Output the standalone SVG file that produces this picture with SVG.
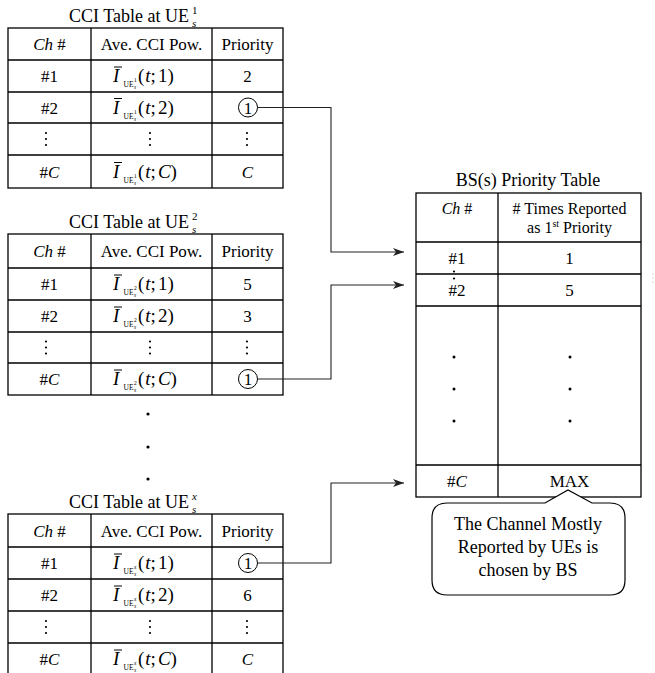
<svg xmlns="http://www.w3.org/2000/svg" width="655" height="673" viewBox="0 0 655 673">
<style>
.t{font-family:"Liberation Serif","Times New Roman",serif;fill:#000}
.m{text-anchor:middle}
.i{font-style:italic}
.f17{font-size:17px}
.f18{font-size:18px}
.grid{stroke:#000;stroke-width:1.3;fill:none}
.bar{stroke:#000;stroke-width:1}
.conn{stroke:#222;stroke-width:1.1;fill:none}
.dot{fill:#000}
</style>
<defs>
<marker id="ah" markerUnits="userSpaceOnUse" markerWidth="12" markerHeight="10" refX="11" refY="4" orient="auto">
<path d="M0,0 L11,4 L0,8 L3,4 Z" fill="#222"/>
</marker>
</defs>
<rect width="655" height="673" fill="#fff"/>

<!-- Table UE1 -->
<g id="table-ue1">
<text class="t f18" x="69" y="22">CCI Table at UE</text>
<text class="t" x="192" y="13.5" font-size="11">1</text>
<text class="t i" x="192" y="27" font-size="11">s</text>
<rect class="grid" x="8" y="28" width="275" height="160"/>
<path class="grid" d="M8 60H283M8 92H283M8 123H283M8 155H283M91 28V188M212 28V188"/>
<text class="t f17 m" x="49.5" y="50"><tspan class="i">Ch</tspan> #</text>
<text class="t f17 m" x="151.5" y="50">Ave. CCI Pow.</text>
<text class="t f17 m" x="247.5" y="50">Priority</text>
<text class="t f17 m" x="49.5" y="82">#1</text>
<text class="t f17 m" x="49.5" y="113.5">#2</text>
<text class="t f17 m" x="49.5" y="177.5">#<tspan class="i">C</tspan></text>
<text class="t f17 m" x="247.5" y="82">2</text>
<circle cx="248" cy="107.5" r="9.5" fill="none" stroke="#000" stroke-width="1"/>
<text class="t f17 m" x="248" y="113.5">1</text>
<text class="t f17 m i" x="247.5" y="177.5">C</text>
<g class="dot"><circle cx="46" cy="133" r="1.1"/><circle cx="46" cy="139" r="1.1"/><circle cx="46" cy="145" r="1.1"/><circle cx="150" cy="133" r="1.1"/><circle cx="150" cy="139" r="1.1"/><circle cx="150" cy="145" r="1.1"/><circle cx="247" cy="133" r="1.1"/><circle cx="247" cy="139" r="1.1"/><circle cx="247" cy="145" r="1.1"/></g>
<g transform="translate(0,82)"><text class="t i" x="113" y="0" font-size="19">I</text><line class="bar" x1="114" y1="-15" x2="122" y2="-15"/><text class="t" x="123.5" y="5" font-size="7.5">UE</text><text class="t" x="134" y="0" font-size="5.5">1</text><text class="t i" x="134" y="7" font-size="5.5">s</text><text class="t" x="138" y="0" font-size="19">(<tspan class="i" dx="1">t</tspan>;<tspan dx="2">1</tspan>)</text></g>
<g transform="translate(0,113.5)"><text class="t i" x="113" y="0" font-size="19">I</text><line class="bar" x1="114" y1="-15" x2="122" y2="-15"/><text class="t" x="123.5" y="5" font-size="7.5">UE</text><text class="t" x="134" y="0" font-size="5.5">1</text><text class="t i" x="134" y="7" font-size="5.5">s</text><text class="t" x="138" y="0" font-size="19">(<tspan class="i" dx="1">t</tspan>;<tspan dx="2">2</tspan>)</text></g>
<g transform="translate(0,177.5)"><text class="t i" x="113" y="0" font-size="19">I</text><line class="bar" x1="114" y1="-15" x2="122" y2="-15"/><text class="t" x="123.5" y="5" font-size="7.5">UE</text><text class="t" x="134" y="0" font-size="5.5">1</text><text class="t i" x="134" y="7" font-size="5.5">s</text><text class="t" x="138" y="0" font-size="19">(<tspan class="i" dx="1">t</tspan>;<tspan class="i" dx="2">C</tspan>)</text></g>
</g>

<!-- Table UE2 -->
<g id="table-ue2">
<text class="t f18" x="69" y="228">CCI Table at UE</text>
<text class="t" x="192" y="219.5" font-size="11">2</text>
<text class="t i" x="192" y="233" font-size="11">s</text>
<rect class="grid" x="8" y="234" width="275" height="161"/>
<path class="grid" d="M8 268H283M8 300H283M8 332H283M8 363H283M91 234V395M212 234V395"/>
<text class="t f17 m" x="49.5" y="257"><tspan class="i">Ch</tspan> #</text>
<text class="t f17 m" x="151.5" y="257">Ave. CCI Pow.</text>
<text class="t f17 m" x="247.5" y="257">Priority</text>
<text class="t f17 m" x="49.5" y="290">#1</text>
<text class="t f17 m" x="49.5" y="322">#2</text>
<text class="t f17 m" x="49.5" y="385">#<tspan class="i">C</tspan></text>
<text class="t f17 m" x="247.5" y="290">5</text>
<text class="t f17 m" x="247.5" y="322">3</text>
<circle cx="248" cy="379" r="9.5" fill="none" stroke="#000" stroke-width="1"/>
<text class="t f17 m" x="248" y="385">1</text>
<g class="dot"><circle cx="46" cy="341.5" r="1.1"/><circle cx="46" cy="347.5" r="1.1"/><circle cx="46" cy="353.5" r="1.1"/><circle cx="150" cy="341.5" r="1.1"/><circle cx="150" cy="347.5" r="1.1"/><circle cx="150" cy="353.5" r="1.1"/><circle cx="247" cy="341.5" r="1.1"/><circle cx="247" cy="347.5" r="1.1"/><circle cx="247" cy="353.5" r="1.1"/></g>
<g transform="translate(0,290)"><text class="t i" x="113" y="0" font-size="19">I</text><line class="bar" x1="114" y1="-15" x2="122" y2="-15"/><text class="t" x="123.5" y="5" font-size="7.5">UE</text><text class="t" x="134" y="0" font-size="5.5">2</text><text class="t i" x="134" y="7" font-size="5.5">s</text><text class="t" x="138" y="0" font-size="19">(<tspan class="i" dx="1">t</tspan>;<tspan dx="2">1</tspan>)</text></g>
<g transform="translate(0,322)"><text class="t i" x="113" y="0" font-size="19">I</text><line class="bar" x1="114" y1="-15" x2="122" y2="-15"/><text class="t" x="123.5" y="5" font-size="7.5">UE</text><text class="t" x="134" y="0" font-size="5.5">2</text><text class="t i" x="134" y="7" font-size="5.5">s</text><text class="t" x="138" y="0" font-size="19">(<tspan class="i" dx="1">t</tspan>;<tspan dx="2">2</tspan>)</text></g>
<g transform="translate(0,385)"><text class="t i" x="113" y="0" font-size="19">I</text><line class="bar" x1="114" y1="-15" x2="122" y2="-15"/><text class="t" x="123.5" y="5" font-size="7.5">UE</text><text class="t" x="134" y="0" font-size="5.5">2</text><text class="t i" x="134" y="7" font-size="5.5">s</text><text class="t" x="138" y="0" font-size="19">(<tspan class="i" dx="1">t</tspan>;<tspan class="i" dx="2">C</tspan>)</text></g>
</g>

<!-- vertical ellipsis between tables -->
<g class="dot"><circle cx="148" cy="414" r="1.6"/><circle cx="148" cy="447" r="1.6"/><circle cx="148" cy="479" r="1.6"/></g>

<!-- Table UEx -->
<g id="table-uex">
<text class="t f18" x="69" y="508">CCI Table at UE</text>
<text class="t i" x="192" y="499.5" font-size="11">x</text>
<text class="t i" x="192" y="513" font-size="11">s</text>
<rect class="grid" x="8" y="514" width="275" height="162"/>
<path class="grid" d="M8 547H283M8 579H283M8 611H283M8 643H283M91 514V676M212 514V676"/>
<text class="t f17 m" x="49.5" y="536.5"><tspan class="i">Ch</tspan> #</text>
<text class="t f17 m" x="151.5" y="536.5">Ave. CCI Pow.</text>
<text class="t f17 m" x="247.5" y="536.5">Priority</text>
<text class="t f17 m" x="49.5" y="569">#1</text>
<text class="t f17 m" x="49.5" y="601">#2</text>
<text class="t f17 m" x="49.5" y="665">#<tspan class="i">C</tspan></text>
<circle cx="248" cy="563" r="9.5" fill="none" stroke="#000" stroke-width="1"/>
<text class="t f17 m" x="248" y="569">1</text>
<text class="t f17 m" x="247.5" y="601">6</text>
<text class="t f17 m i" x="247.5" y="665">C</text>
<g class="dot"><circle cx="46" cy="621" r="1.1"/><circle cx="46" cy="627" r="1.1"/><circle cx="46" cy="633" r="1.1"/><circle cx="150" cy="621" r="1.1"/><circle cx="150" cy="627" r="1.1"/><circle cx="150" cy="633" r="1.1"/><circle cx="247" cy="621" r="1.1"/><circle cx="247" cy="627" r="1.1"/><circle cx="247" cy="633" r="1.1"/></g>
<g transform="translate(0,569)"><text class="t i" x="113" y="0" font-size="19">I</text><line class="bar" x1="114" y1="-15" x2="122" y2="-15"/><text class="t" x="123.5" y="5" font-size="7.5">UE</text><text class="t i" x="134" y="0" font-size="5.5">x</text><text class="t i" x="134" y="7" font-size="5.5">s</text><text class="t" x="138" y="0" font-size="19">(<tspan class="i" dx="1">t</tspan>;<tspan dx="2">1</tspan>)</text></g>
<g transform="translate(0,601)"><text class="t i" x="113" y="0" font-size="19">I</text><line class="bar" x1="114" y1="-15" x2="122" y2="-15"/><text class="t" x="123.5" y="5" font-size="7.5">UE</text><text class="t i" x="134" y="0" font-size="5.5">x</text><text class="t i" x="134" y="7" font-size="5.5">s</text><text class="t" x="138" y="0" font-size="19">(<tspan class="i" dx="1">t</tspan>;<tspan dx="2">2</tspan>)</text></g>
<g transform="translate(0,665)"><text class="t i" x="113" y="0" font-size="19">I</text><line class="bar" x1="114" y1="-15" x2="122" y2="-15"/><text class="t" x="123.5" y="5" font-size="7.5">UE</text><text class="t i" x="134" y="0" font-size="5.5">x</text><text class="t i" x="134" y="7" font-size="5.5">s</text><text class="t" x="138" y="0" font-size="19">(<tspan class="i" dx="1">t</tspan>;<tspan class="i" dx="2">C</tspan>)</text></g>
</g>

<!-- BS priority table -->
<g id="bs-table">
<text class="t f18 m" x="528" y="186">BS(s) Priority Table</text>
<rect class="grid" x="416" y="193" width="225" height="304"/>
<path class="grid" d="M416 242H641M416 274H641M416 306H641M416 465H641M498 193V497"/>
<text class="t m" font-size="16" x="457" y="214"><tspan class="i">Ch</tspan> #</text>
<text class="t m" font-size="16" x="569.5" y="214"># Times Reported</text>
<text class="t m" font-size="16" x="569.5" y="233">as 1<tspan font-size="10" dy="-6">st</tspan><tspan dy="6"> Priority</tspan></text>
<text class="t f17 m" x="457" y="264">#1</text>
<text class="t f17 m" x="569.5" y="264">1</text>
<text class="t f17 m" x="457" y="296">#2</text>
<text class="t f17 m" x="569.5" y="296">5</text>
<g class="dot"><circle cx="454" cy="271.5" r="1.1"/><circle cx="454" cy="278.5" r="1.1"/>
<circle cx="454" cy="357" r="1.5"/><circle cx="454" cy="389" r="1.5"/><circle cx="454" cy="421" r="1.5"/>
<circle cx="570" cy="357" r="1.5"/><circle cx="570" cy="389" r="1.5"/><circle cx="570" cy="421" r="1.5"/></g>
<text class="t f17 m" x="457" y="487">#<tspan class="i">C</tspan></text>
<text class="t f17 m" x="569.5" y="487">MAX</text>
</g>

<!-- callout -->
<g id="callout">
<path d="M447 503 H545 L568 490 L592 503 H610 Q625 503 625 518 V580 Q625 595 610 595 H447 Q432 595 432 580 V518 Q432 503 447 503 Z" fill="#fff" stroke="#000" stroke-width="1.2"/>
<text class="t f18 m" x="528" y="530">The Channel Mostly</text>
<text class="t f18 m" x="528" y="553">Reported by UEs is</text>
<text class="t f18 m" x="528" y="576">chosen by BS</text>
</g>

<!-- connectors -->
<g id="connectors">
<path class="conn" d="M257.5 107.5 H331 V252 H404" marker-end="url(#ah)"/>
<path class="conn" d="M257.5 379 H331 V285 H404" marker-end="url(#ah)"/>
<path class="conn" d="M257.5 563 H331 V483 H404" marker-end="url(#ah)"/>
</g>

<g fill="#c8c8c8"><circle cx="653" cy="274" r="0.7"/><circle cx="653" cy="278" r="0.7"/><circle cx="653" cy="282" r="0.7"/></g>
</svg>
